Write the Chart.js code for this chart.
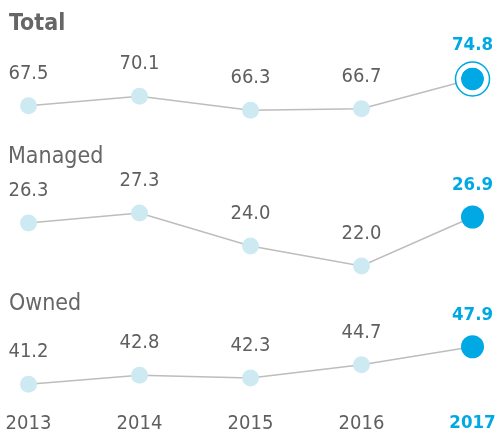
<!DOCTYPE html>
<html>
<head>
<meta charset="utf-8">
<script src="https://cdn.jsdelivr.net/npm/chart.js@4/dist/chart.umd.min.js"></script>
<style>
  html, body { margin: 0; padding: 0; background: #fff; }
  #wrap { width: 497px; height: 437px; position: relative; }
</style>
</head>
<body>
<div id="wrap"><canvas id="trendChart"></canvas></div>
<script>
var years = ['2013', '2014', '2015', '2016', '2017'];
var totalValues = [67.5, 70.1, 66.3, 66.7, 74.8];
var managedValues = [26.3, 27.3, 24.0, 22.0, 26.9];
var ownedValues = [41.2, 42.8, 42.3, 44.7, 47.9];
var panelTitles = ['Total', 'Managed', 'Owned'];

var FONT = "'DejaVu Sans Condensed', 'DejaVu Sans', sans-serif";
var GREY_TEXT = '#5f5f5f';
var BLUE = '#00a8e4';
var LIGHT = '#cdeaf3';
var LINE = '#bdbdbd';

var lastIdx = years.length - 1;

function lineSet(values, axis) {
    return {
        data: values,
        yAxisID: axis,
        valueLabels: true,
        borderColor: LINE,
        borderWidth: 1.5,
        tension: 0,
        clip: false,
        pointRadius: values.map(function (v, i) { return i === lastIdx ? 11.5 : 8.5; }),
        pointBackgroundColor: values.map(function (v, i) { return i === lastIdx ? BLUE : LIGHT; }),
        pointBorderWidth: 0,
        order: 1
    };
}

// ring around the latest Total value
var ringData = totalValues.map(function (v, i) { return i === lastIdx ? v : null; });

var labelPlugin = {
    id: 'valueLabels',
    afterDatasetsDraw: function (chart) {
        var ctx = chart.ctx;
        ctx.save();
        ctx.textAlign = 'center';
        ctx.textBaseline = 'alphabetic';
        chart.data.datasets.forEach(function (ds, di) {
            if (!ds.valueLabels) return;
            var meta = chart.getDatasetMeta(di);
            meta.data.forEach(function (pt, i) {
                var last = i === lastIdx;
                ctx.font = last ? 'bold 18.5px ' + FONT : '20px ' + FONT;
                ctx.fillStyle = last ? BLUE : GREY_TEXT;
                var gap = (last && ds.yAxisID === 'yTotal') ? 29 : 27;
                ctx.fillText(ds.data[i].toFixed(1), pt.x, pt.y - gap);
            });
        });
        // panel titles
        ctx.textAlign = 'left';
        ctx.fillStyle = '#666';
        ctx.font = 'bold 23px ' + FONT;
        ctx.fillText(panelTitles[0], 9, 30);
        ctx.font = '23px ' + FONT;
        ctx.fillText(panelTitles[1], 8, 163);
        ctx.fillText(panelTitles[2], 9, 310);
        ctx.restore();
    }
};

new Chart(document.getElementById('trendChart').getContext('2d'), {
    type: 'line',
    data: {
        labels: years,
        datasets: [
            {
                data: ringData, yAxisID: 'yTotal', showLine: false, clip: false,
                pointRadius: 17, pointBorderWidth: 1.5, pointBorderColor: BLUE,
                pointBackgroundColor: 'rgba(0,0,0,0)', order: -2
            },
            {
                data: ringData, yAxisID: 'yTotal', showLine: false, clip: false,
                pointRadius: 14, pointBorderWidth: 5, pointBorderColor: '#fff',
                pointBackgroundColor: 'rgba(0,0,0,0)', order: -1
            },
            lineSet(totalValues, 'yTotal'),
            lineSet(managedValues, 'yManaged'),
            lineSet(ownedValues, 'yOwned')
        ]
    },
    options: {
        responsive: true,
        maintainAspectRatio: false,
        animation: false,
        layout: { autoPadding: false, padding: { left: 28.5, right: 24.5, top: 0, bottom: 0 } },
        plugins: { legend: { display: false }, tooltip: { enabled: false } },
        scales: {
            x: {
                grid: { display: false, drawTicks: false },
                border: { display: false },
                afterFit: function (scale) {
                    scale.height = 32;
                    scale.paddingLeft = 0;
                    scale.paddingRight = 0;
                },
                ticks: {
                    padding: 7,
                    maxRotation: 0,
                    autoSkip: false,
                    color: function (c) { return c.index === lastIdx ? BLUE : GREY_TEXT; },
                    font: function (c) {
                        return c.index === lastIdx
                            ? { family: FONT, size: 18.5, weight: 'bold' }
                            : { family: FONT, size: 20, weight: 'normal' };
                    }
                }
            },
            yTotal: { display: false, min: -13.8, max: 96.25 },
            yManaged: { display: false, min: 8.1, max: 48.6 },
            yOwned: { display: false, min: 37.48, max: 109.93 }
        }
    },
    plugins: [labelPlugin]
});
</script>
</body>
</html>
